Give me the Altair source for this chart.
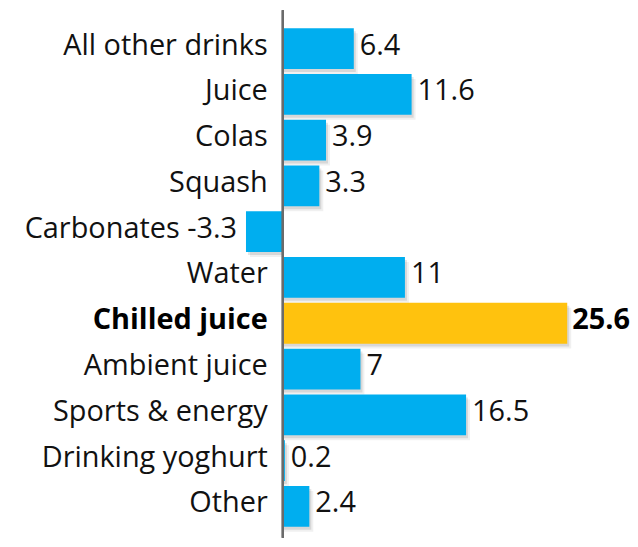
import altair as alt
import pandas as pd

categories = ["All other drinks", "Juice", "Colas", "Squash", "Carbonates", "Water",
              "Chilled juice", "Ambient juice", "Sports & energy", "Drinking yoghurt", "Other"]
values = [6.4, 11.6, 3.9, 3.3, -3.3, 11, 25.6, 7, 16.5, 0.2, 2.4]
highlight = "Chilled juice"

BLUE = "#00AEEF"
GOLD = "#FFC20E"
FONT = "Open Sans"
FS = 29
DY = -3

df = pd.DataFrame({"category": categories, "value": values})
df["zero"] = 0.0
df["vtext"] = [f"{v:g}" for v in values]
df["neg"] = df["value"] < 0
df["hl"] = df["category"] == highlight
df["neglabel"] = df["category"] + " " + df["vtext"]

W, H = 620, 530
xscale = alt.Scale(domain=[-24.71, 30.80], nice=False, zero=False)
yscale = alt.Scale(paddingInner=0.109, paddingOuter=0.315, align=0.62)

X = alt.X("value:Q", scale=xscale, axis=None)
X0 = alt.X("zero:Q", scale=xscale, axis=None)

base = alt.Chart(df).encode(
    y=alt.Y("category:N", sort=categories, scale=yscale, axis=None)
)

shadow1 = base.mark_bar(color="#000000", opacity=0.10, xOffset=2, yOffset=3).encode(
    x=X, x2="zero:Q"
)
shadow2 = base.mark_bar(color="#000000", opacity=0.06, xOffset=4, yOffset=5).encode(
    x=X, x2="zero:Q"
)
bars = base.mark_bar().encode(
    x=X,
    x2="zero:Q",
    color=alt.condition(alt.datum.category == highlight, alt.value(GOLD), alt.value(BLUE)),
)

zero_rule = alt.Chart(df).mark_rule(color="#6b6b6b", strokeWidth=1.5).encode(
    x=X0, y=alt.value(0), y2=alt.value(H)
)

cat_pos = base.transform_filter("!datum.neg && !datum.hl").mark_text(
    align="right", baseline="middle", dx=-15, dy=DY, font=FONT, fontSize=FS, color="#111111"
).encode(x=X0, text="category:N")

cat_hl = base.transform_filter("datum.hl").mark_text(
    align="right", baseline="middle", dx=-15, dy=DY, font=FONT, fontSize=FS, fontWeight="bold", color="#000000"
).encode(x=X0, text="category:N")

cat_neg = base.transform_filter("datum.neg").mark_text(
    align="right", baseline="middle", dx=-9, dy=DY, font=FONT, fontSize=FS, color="#111111"
).encode(x=X, text="neglabel:N")

val_pos = base.transform_filter("!datum.neg && !datum.hl").mark_text(
    align="left", baseline="middle", dx=6, dy=DY, font=FONT, fontSize=FS, color="#111111"
).encode(x=X, text="vtext:N")

val_hl = base.transform_filter("datum.hl").mark_text(
    align="left", baseline="middle", dx=5, dy=DY, font=FONT, fontSize=FS, fontWeight="bold", color="#000000"
).encode(x=X, text="vtext:N")

chart = alt.layer(
    shadow2, shadow1, bars, zero_rule, cat_pos, cat_hl, cat_neg, val_pos, val_hl
).properties(width=W, height=H, padding=0, background="white").configure_view(stroke=None)

chart.save("out.html", embed_options={"renderer": "svg", "actions": False})
